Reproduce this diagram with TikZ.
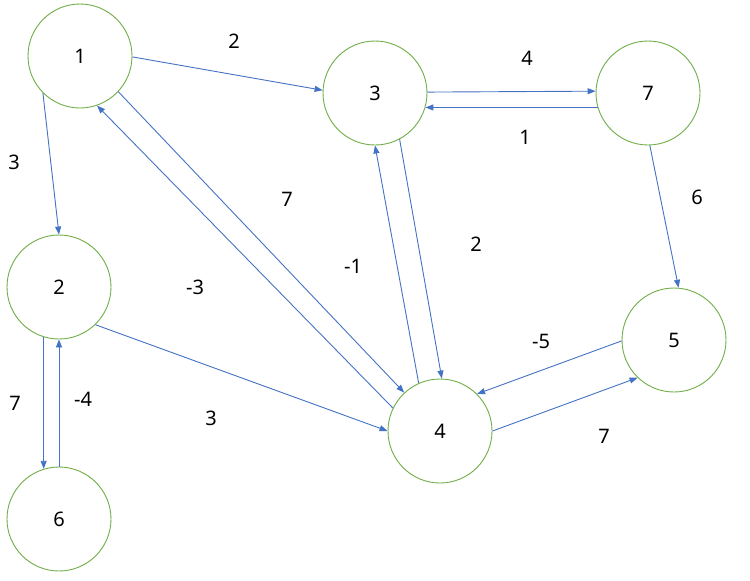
\documentclass[tikz,border=0pt]{standalone}
\usepackage{fontspec}
\setmainfont{Noto Sans}
\usetikzlibrary{arrows.meta}
\definecolor{vgreen}{RGB}{112,173,71}
\definecolor{eblue}{RGB}{68,114,196}
\tikzset{
  vert/.style={circle, draw=vgreen, line width=0.9pt, minimum size=104pt, inner sep=0pt, font=\fontsize{20}{24}\selectfont},
  edge/.style={draw=eblue, line width=0.9pt, -{Triangle[length=8pt,width=6pt]}},
  wlab/.style={font=\fontsize{20}{24}\selectfont, inner sep=0pt}
}
\begin{document}
\begin{tikzpicture}[x=1pt,y=-1pt]
\useasboundingbox (0,0) rectangle (750,581);
\node[vert] (n1) at (80,56) {1};
\node[vert] (n3) at (375,93) {3};
\node[vert] (n7) at (648,93) {7};
\node[vert] (n2) at (59,287) {2};
\node[vert] (n5) at (674,340) {5};
\node[vert] (n4) at (440,431) {4};
\node[vert] (n6) at (59,519) {6};

\draw[edge] (n1.-1) -- (n3.177);
\draw[edge] (n1.-135) -- (n2.90);
\draw[edge] (n1.-43.5) -- (n4.133.5);
\draw[edge] (n4.154) -- (n1.-71);
\draw[edge] (n3.1.2) -- (n7.178.8);
\draw[edge] (n7.196.8) -- (n3.-16.8);
\draw[edge] (n4.114) -- (n3.-90);
\draw[edge] (n3.-62) -- (n4.88);
\draw[edge] (n7.-88) -- (n5.85.6);
\draw[edge] (n5.-179) -- (n4.45);
\draw[edge] (n4.0) -- (n5.-134);
\draw[edge] (n2.-46.5) -- (n4.180);
\draw[edge] (n2.-107.9) -- (n6.107.9);
\draw[edge] (n6.90) -- (n2.-90);

\node[wlab] (w13) at (234,41) {2};
\node[wlab] (w12) at (14,162) {3};
\node[wlab] (w14) at (287,199) {7};
\node[wlab] (w41) at (195,287) {-3};
\node[wlab] (w37) at (527,58) {4};
\node[wlab] (w73) at (525,137) {1};
\node[wlab] (w43) at (353,266) {-1};
\node[wlab] (w34) at (476,244) {2};
\node[wlab] (w75) at (697,197) {6};
\node[wlab] (w54) at (541,341) {-5};
\node[wlab] (w45) at (604,436) {7};
\node[wlab] (w24) at (211,418) {3};
\node[wlab] (w26) at (15,403) {7};
\node[wlab] (w62) at (83,399) {-4};
\end{tikzpicture}
\end{document}
